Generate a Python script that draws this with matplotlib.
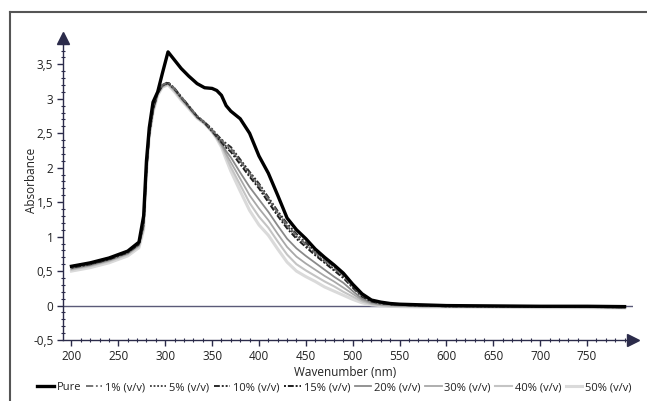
import matplotlib
matplotlib.use("Agg")
import matplotlib.pyplot as plt
from matplotlib.lines import Line2D
from matplotlib.ticker import MultipleLocator, FuncFormatter

# wavelength grid (nm) shared by all spectra
wavelength = [200, 220, 240, 260, 272, 277, 280, 283, 287, 292, 297, 303, 310, 317, 325, 334,
              342, 350, 355, 360, 365, 370, 380, 390, 400, 410, 420, 430, 440, 450, 460, 470,
              480, 490, 500, 510, 520, 530, 540, 550, 575, 600, 650, 700, 750, 790]

pure = [0.57, 0.62, 0.69, 0.79, 0.92, 1.30, 2.10, 2.58, 2.95, 3.10, 3.37, 3.68, 3.56, 3.44, 3.33, 3.22,
        3.16, 3.15, 3.12, 3.05, 2.90, 2.82, 2.71, 2.50, 2.17, 1.92, 1.60, 1.27, 1.10, 0.97, 0.82, 0.70,
        0.59, 0.47, 0.31, 0.17, 0.08, 0.05, 0.03, 0.02, 0.01, 0.00, -0.005, -0.01, -0.01, -0.015]
v1 = [0.56, 0.61, 0.68, 0.78, 0.90, 1.20, 2.00, 2.50, 2.85, 3.10, 3.20, 3.24, 3.15, 3.03, 2.90, 2.75,
      2.66, 2.55, 2.47, 2.40, 2.33, 2.28, 2.10, 1.92, 1.75, 1.55, 1.35, 1.17, 1.02, 0.89, 0.77, 0.66,
      0.55, 0.43, 0.28, 0.15, 0.07, 0.04, 0.02, 0.01, 0.00, -0.005, -0.01, -0.015, -0.02, -0.025]
v5 = [0.55, 0.60, 0.67, 0.77, 0.89, 1.18, 1.98, 2.49, 2.84, 3.09, 3.19, 3.23, 3.14, 3.02, 2.89, 2.74,
      2.65, 2.54, 2.46, 2.38, 2.31, 2.26, 2.08, 1.90, 1.73, 1.53, 1.33, 1.15, 1.00, 0.87, 0.75, 0.64,
      0.53, 0.42, 0.27, 0.14, 0.07, 0.04, 0.02, 0.01, 0.00, -0.01, -0.01, -0.015, -0.02, -0.025]
v10 = [0.57, 0.62, 0.69, 0.78, 0.90, 1.20, 2.00, 2.50, 2.86, 3.10, 3.20, 3.24, 3.15, 3.03, 2.90, 2.75,
       2.66, 2.56, 2.48, 2.41, 2.35, 2.30, 2.12, 1.94, 1.77, 1.57, 1.37, 1.19, 1.04, 0.91, 0.79, 0.68,
       0.57, 0.45, 0.30, 0.16, 0.08, 0.04, 0.02, 0.01, 0.00, -0.005, -0.01, -0.01, -0.015, -0.02]
v15 = [0.55, 0.60, 0.67, 0.77, 0.89, 1.18, 1.98, 2.48, 2.84, 3.08, 3.19, 3.23, 3.14, 3.02, 2.89, 2.74,
       2.65, 2.53, 2.45, 2.37, 2.29, 2.23, 2.05, 1.87, 1.70, 1.50, 1.30, 1.12, 0.97, 0.85, 0.73, 0.62,
       0.51, 0.40, 0.26, 0.13, 0.06, 0.03, 0.02, 0.01, 0.00, -0.01, -0.01, -0.015, -0.02, -0.025]
v20 = [0.54, 0.59, 0.66, 0.76, 0.88, 1.16, 1.96, 2.48, 2.83, 3.08, 3.19, 3.22, 3.13, 3.01, 2.88, 2.73,
       2.65, 2.53, 2.44, 2.35, 2.24, 2.15, 1.93, 1.72, 1.54, 1.36, 1.16, 0.97, 0.83, 0.72, 0.62, 0.52,
       0.42, 0.33, 0.21, 0.10, 0.045, 0.02, 0.01, 0.00, -0.01, -0.01, -0.015, -0.02, -0.02, -0.03]
v30 = [0.53, 0.58, 0.65, 0.75, 0.87, 1.14, 1.94, 2.47, 2.82, 3.07, 3.18, 3.22, 3.12, 3.00, 2.87, 2.73,
       2.64, 2.52, 2.43, 2.33, 2.20, 2.08, 1.84, 1.60, 1.41, 1.24, 1.04, 0.85, 0.71, 0.61, 0.52, 0.43,
       0.35, 0.26, 0.17, 0.08, 0.03, 0.01, 0.00, -0.005, -0.01, -0.015, -0.02, -0.02, -0.025, -0.03]
v40 = [0.52, 0.57, 0.64, 0.74, 0.86, 1.12, 1.92, 2.46, 2.81, 3.06, 3.17, 3.21, 3.11, 2.99, 2.87, 2.72,
       2.64, 2.52, 2.43, 2.32, 2.16, 2.01, 1.75, 1.49, 1.29, 1.13, 0.93, 0.74, 0.60, 0.51, 0.43, 0.35,
       0.28, 0.20, 0.13, 0.06, 0.02, 0.00, -0.01, -0.01, -0.015, -0.02, -0.02, -0.025, -0.03, -0.03]
v50 = [0.50, 0.55, 0.62, 0.72, 0.84, 1.10, 1.90, 2.45, 2.80, 3.05, 3.17, 3.20, 3.10, 2.98, 2.86, 2.72,
       2.64, 2.52, 2.42, 2.30, 2.12, 1.95, 1.66, 1.38, 1.17, 1.02, 0.82, 0.63, 0.50, 0.42, 0.35, 0.27,
       0.21, 0.15, 0.09, 0.04, 0.01, 0.00, -0.01, -0.015, -0.02, -0.02, -0.025, -0.03, -0.03, -0.035]

labels = ["Pure", "1% (v/v)", "5% (v/v)", "10% (v/v)", "15% (v/v)",
          "20% (v/v)", "30% (v/v)", "40% (v/v)", "50% (v/v)"]
series = [pure, v1, v5, v10, v15, v20, v30, v40, v50]

styles = [
    dict(color="#000000", lw=2.4, ls="-"),
    dict(color="#6a6a6a", lw=1.3, ls=(0, (4, 1.5, 1, 1.5))),
    dict(color="#3a3a3a", lw=1.3, ls=(0, (1, 1))),
    dict(color="#2a2a2a", lw=1.4, ls=(0, (3, 1, 1, 1, 1, 1))),
    dict(color="#1e1e1e", lw=1.4, ls=(0, (1, 1, 3, 1))),
    dict(color="#8a8a8a", lw=1.3, ls="-"),
    dict(color="#a8a8a8", lw=1.3, ls="-"),
    dict(color="#c4c4c4", lw=1.5, ls="-"),
    dict(color="#dadada", lw=2.2, ls="-"),
]

plt.rcParams["font.family"] = ["Open Sans", "DejaVu Sans"]
axis_color = "#2b2b4a"

fig = plt.figure(figsize=(6.47, 4.01), dpi=100)
ax = fig.add_axes([0.0974, 0.152, 0.881, 0.753])

ax.axhline(0, color="#5a5a78", lw=1.0, zorder=1)
for ys, st, lab in zip(series[::-1], styles[::-1], labels[::-1]):
    ax.plot(wavelength, ys, label=lab, zorder=2, **st)

ax.set_xlim(191, 799)
ax.set_ylim(-0.5, 3.88)
for side in ("top", "right"):
    ax.spines[side].set_visible(False)
for side in ("left", "bottom"):
    ax.spines[side].set_color(axis_color)
    ax.spines[side].set_linewidth(1.0)

ax.plot([0], [1], marker="^", ms=8, color=axis_color, transform=ax.transAxes, clip_on=False)
ax.plot([1], [0], marker=">", ms=8, color=axis_color, transform=ax.transAxes, clip_on=False)

ax.xaxis.set_minor_locator(MultipleLocator(10))
ax.yaxis.set_major_locator(MultipleLocator(0.5))
ax.yaxis.set_minor_locator(MultipleLocator(0.1))
ax.set_xticks(range(200, 800, 50))
ax.yaxis.set_major_formatter(FuncFormatter(lambda v, p: f"{v:g}".replace(".", ",")))
ax.tick_params(axis="both", which="major", direction="out", length=4, width=1,
               color=axis_color, labelsize=8.5, labelcolor="#222222", pad=3)
ax.tick_params(axis="both", which="minor", direction="inout", length=3, width=0.8,
               color=axis_color)

fig.text(0.049, 0.551, "Absorbance", rotation=90, ha="center", va="center",
         fontsize=8.5, color="#222222")
fig.text(0.533, 0.072, "Wavenumber (nm)", ha="center", va="center",
         fontsize=8.5, color="#222222")

handles = [Line2D([], [], **st) for st in styles]
fig.legend(handles, labels, loc="center", bbox_to_anchor=(0.517, 0.033), ncol=9,
           frameon=False, fontsize=8.0, handlelength=1.5, handletextpad=0.25,
           columnspacing=0.4, borderpad=0, borderaxespad=0, labelcolor="#222222")

# outer frame (left and top edges visible in the crop)
fig.add_artist(Line2D([0.0155, 0.0155], [0.0, 0.970], transform=fig.transFigure,
                      color="#555555", lw=1.5))
fig.add_artist(Line2D([0.0155, 1.0], [0.970, 0.970], transform=fig.transFigure,
                      color="#555555", lw=1.5))

fig.savefig("out.png", dpi=100)
